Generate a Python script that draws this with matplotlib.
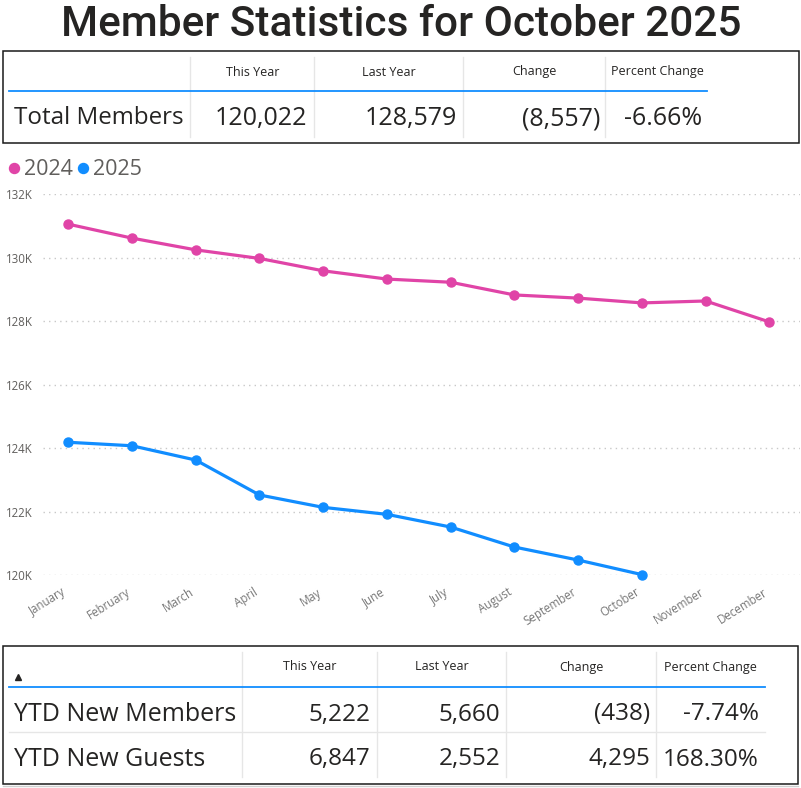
import matplotlib
matplotlib.use("Agg")
import matplotlib.pyplot as plt
from matplotlib.lines import Line2D
from matplotlib.patches import Rectangle
from matplotlib.ticker import FuncFormatter
import matplotlib.transforms as mtransforms

# ---------------- data ----------------
title = "Member Statistics for October 2025"
months = ["January", "February", "March", "April", "May", "June", "July",
          "August", "September", "October", "November", "December"]
series_names = ["2024", "2025"]
members_2024 = [131060, 130620, 130250, 129980, 129590, 129330, 129230,
                128830, 128730, 128579, 128640, 127980]
members_2025 = [124190, 124080, 123630, 122530, 122140, 121920, 121520,
                120890, 120480, 120022]
y_ticks = [120000, 122000, 124000, 126000, 128000, 130000, 132000]

table_headers = ["This Year", "Last Year", "Change", "Percent Change"]
total_row_label = "Total Members"
total_row_values = ["120,022", "128,579", "(8,557)", "-6.66%"]
ytd_row_labels = ["YTD New Members", "YTD New Guests"]
ytd_row_values = [["5,222", "5,660", "(438)", "-7.74%"],
                  ["6,847", "2,552", "4,295", "168.30%"]]

# ---------------- styling ----------------
W, H = 801, 788
PINK = "#E044A7"
BLUE = "#118DFF"
TXT = "#252423"
GRAY = "#605E5C"
SEP = "#E6E6E6"
FONT = ["Open Sans", "DejaVu Sans"]

plt.rcParams["font.family"] = FONT

fig = plt.figure(figsize=(W / 100, H / 100), dpi=100)
fig.patch.set_facecolor("white")


def fx(x):
    return x / W


def fy(y):
    return 1 - y / H


def hline(x0, x1, y, color, lw):
    fig.add_artist(Line2D([fx(x0), fx(x1)], [fy(y), fy(y)], color=color,
                          lw=lw, transform=fig.transFigure))


def vline(x, y0, y1, color, lw):
    fig.add_artist(Line2D([fx(x), fx(x)], [fy(y0), fy(y1)], color=color,
                          lw=lw, transform=fig.transFigure))


def box(x0, y0, x1, y1):
    fig.add_artist(Rectangle((fx(x0), fy(y1)), fx(x1) - fx(x0), fy(y0) - fy(y1),
                             fill=False, edgecolor="#1a1a1a", lw=1.1,
                             transform=fig.transFigure))


# ---------------- title ----------------
fig.text(fx(401), fy(25), title, ha="center", va="center", fontsize=30.5,
         color=TXT, family=["Roboto", "DejaVu Sans"], fontweight="medium")

# ---------------- table 1 ----------------
box(2.5, 51, 798.5, 142.7)
seps1 = [190.3, 314.3, 463.3, 605.3]
for xs in seps1:
    vline(xs, 56.7, 136.7, SEP, 1.0)
hline(9, 706.7, 91.3, BLUE, 1.3)
head_centers1 = [252.3, 388.8, 534.3, 657]
for xc, h in zip(head_centers1, table_headers):
    fig.text(fx(xc), fy(72), h, ha="center", va="center", fontsize=9, color=TXT)
fig.text(fx(14), fy(118.5), total_row_label, ha="left", va="center",
         fontsize=17.4, color=TXT)
val_right1 = [306.7, 456.7, 600, 701.7]
for xr, v in zip(val_right1, total_row_values):
    fig.text(fx(xr), fy(118.5), v, ha="right", va="center", fontsize=18, color=TXT)

# ---------------- line chart ----------------
left_px, right_px, top_px, bot_px = 42.7, 800, 194.3, 575.3
ax = fig.add_axes([fx(left_px), fy(bot_px), fx(right_px) - fx(left_px),
                   fy(top_px) - fy(bot_px)])
xs24 = list(range(len(members_2024)))
xs25 = list(range(len(members_2025)))
ax.plot(xs24, members_2024, color=PINK, lw=2.3, marker="o", ms=6.5,
        clip_on=False, zorder=3)
ax.plot(xs25, members_2025, color=BLUE, lw=2.3, marker="o", ms=6.5,
        clip_on=False, zorder=3)
ax.set_xlim(-0.4, 11.48)
ax.set_ylim(y_ticks[0], y_ticks[-1])
ax.set_yticks(y_ticks)
ax.yaxis.set_major_formatter(FuncFormatter(lambda v, p: f"{v/1000:.0f}K"))
ax.grid(axis="y", color="#C8C8C8", lw=1.0, linestyle=(0, (1, 3)))
ax.set_axisbelow(True)
for s in ax.spines.values():
    s.set_visible(False)
ax.tick_params(axis="y", length=0, pad=7, labelsize=8.3, labelcolor=GRAY)
ax.set_xticks(xs24)
ax.set_xticklabels(months)
ax.tick_params(axis="x", length=0, pad=11.5, labelsize=8.3, labelcolor="#777777")
offset = mtransforms.ScaledTranslation(-3 / 100, 0, fig.dpi_scale_trans)
for lbl in ax.get_xticklabels():
    lbl.set_rotation(32)
    lbl.set_ha("right")
    lbl.set_va("center")
    lbl.set_rotation_mode("anchor")
    lbl.set_transform(lbl.get_transform() + offset)

# legend
leg_items = [(14, 24, PINK, series_names[0]), (83.3, 92.7, BLUE, series_names[1])]
for xd, xt, col, name in leg_items:
    fig.add_artist(Line2D([fx(xd)], [fy(168.3)], marker="o", ms=7.2,
                          color=col, lw=0, transform=fig.transFigure))
    fig.text(fx(xt), fy(169.5), name, ha="left", va="center", fontsize=15.5,
             color=GRAY)

# ---------------- table 2 ----------------
box(2.7, 646, 798, 784)
hline(3, 798, 786, "#D0D0D0", 1.0)
seps2 = [242.3, 376.7, 506, 656]
for xs in seps2:
    vline(xs, 652.3, 777.3, SEP, 1.0)
fig.add_artist(Line2D([fx(18)], [fy(677)], marker="^", ms=4.2, color="#252423",
                      lw=0, transform=fig.transFigure))
hline(9.3, 765, 686.7, BLUE, 1.3)
hline(9, 765, 732.3, SEP, 1.0)
head_centers2 = [309.3, 442, 581.3, 710.7]
for xc, h in zip(head_centers2, table_headers):
    fig.text(fx(xc), fy(667), h, ha="center", va="center", fontsize=9, color=TXT)
row_ys = [714.5, 759.5]
val_right2 = [370.7, 500, 650, 759]
for yr, lab, vals in zip(row_ys, ytd_row_labels, ytd_row_values):
    fig.text(fx(14), fy(yr), lab, ha="left", va="center", fontsize=18, color=TXT)
    for xr, v in zip(val_right2, vals):
        fig.text(fx(xr), fy(yr), v, ha="right", va="center", fontsize=17.5,
                 color=TXT)

fig.savefig("out.png", dpi=100, facecolor="white")
